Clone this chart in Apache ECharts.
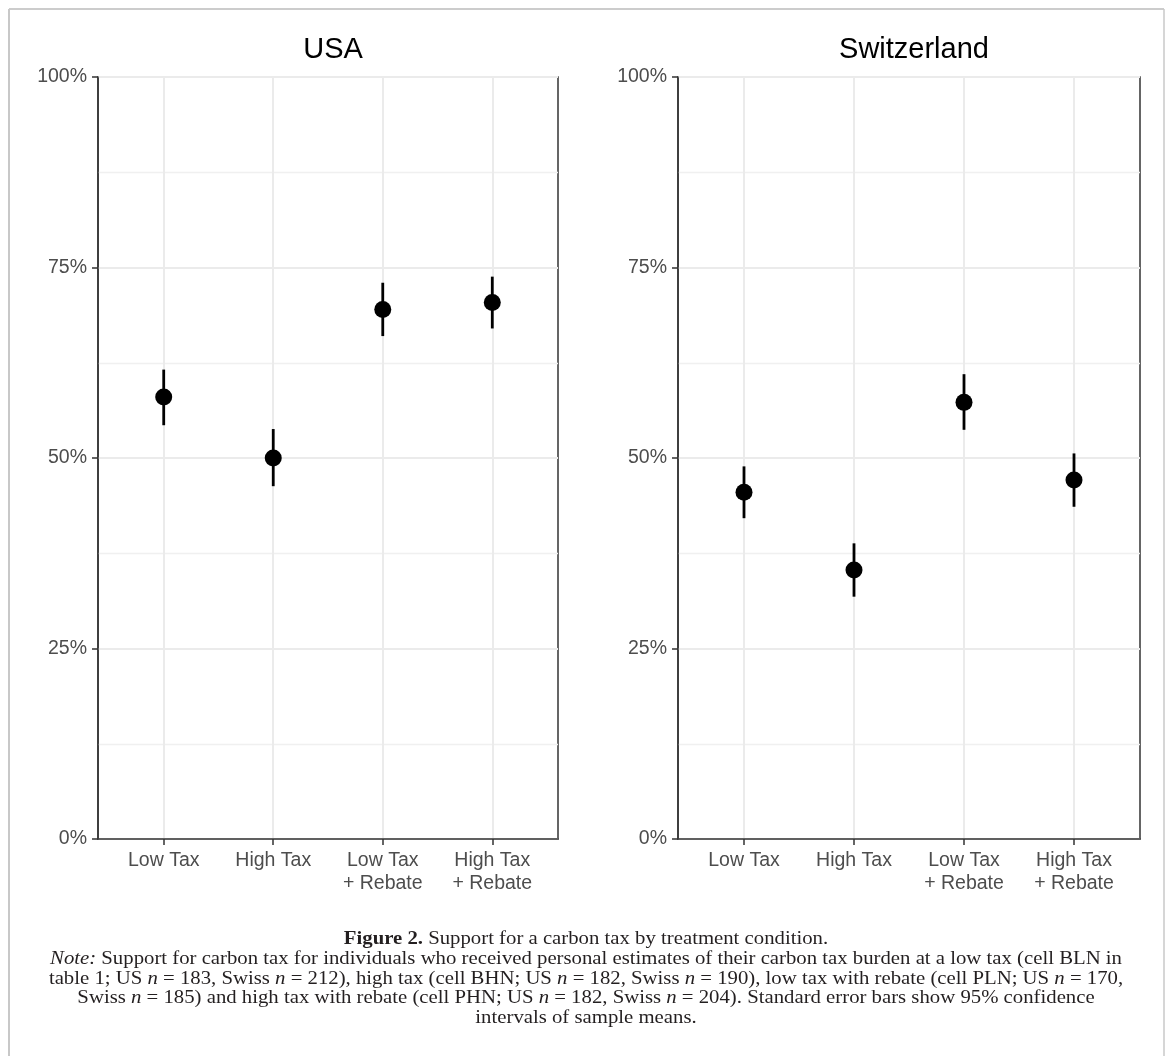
<!DOCTYPE html>
<html>
<head>
<meta charset="utf-8">
<style>
  html, body { margin: 0; padding: 0; background: #fff; }
  #chart { width: 1171px; height: 1056px; }
</style>
<script src="https://cdn.jsdelivr.net/npm/echarts@6/dist/echarts.min.js"></script>
</head>
<body>
<div id="chart"></div>
<script>
// ---- data ----
var categories = ['Low Tax', 'High Tax', 'Low Tax\n+ Rebate', 'High Tax\n+ Rebate'];
var panelTitles = ['USA', 'Switzerland'];
var yTicks = [0, 25, 50, 75, 100];

var usaMean  = [58.0, 50.0, 69.5, 70.4];
var usaLow   = [54.3, 46.3, 66.0, 67.0];
var usaHigh  = [61.6, 53.8, 73.0, 73.8];

var swissMean = [45.5, 35.3, 57.3, 47.1];
var swissLow  = [42.1, 31.8, 53.7, 43.6];
var swissHigh = [48.9, 38.8, 61.0, 50.6];

// ---- chart ----
var chart = echarts.init(document.getElementById('chart'), null, { renderer: 'canvas' });

var sans = '"Liberation Sans", Arial, Helvetica, sans-serif';
var serif = '"Liberation Serif", "Times New Roman", serif';
var catPos = categories.map(function (c, i) { return i + 1; });

var grids = [
  { left: 98, top: 77, width: 460, height: 762 },
  { left: 678, top: 77, width: 462, height: 762 }
];

function xAxisFor(idx) {
  return {
    type: 'value', gridIndex: idx, min: 0.4, max: 4.6,
    axisLine: { show: true, onZero: false, lineStyle: { color: '#333333', width: 1.5 } },
    axisTick: { show: true, customValues: catPos, length: 6, lineStyle: { color: '#333333', width: 1.5 } },
    axisLabel: {
      customValues: catPos, margin: 10, color: '#4d4d4d', fontFamily: sans, fontSize: 19.5, lineHeight: 23,
      formatter: function (v) { return categories[Math.round(v) - 1] || ''; }
    },
    splitLine: { show: true, lineStyle: { color: '#ebebeb', width: 2 } }
  };
}
function yAxisFor(idx) {
  return {
    type: 'value', gridIndex: idx, min: 0, max: 100, interval: 25,
    axisLine: { show: true, lineStyle: { color: '#333333', width: 1.5 } },
    axisTick: { show: true, length: 6, lineStyle: { color: '#333333', width: 1.5 } },
    axisLabel: { margin: 11, color: '#4d4d4d', fontFamily: sans, fontSize: 19.5, formatter: '{value}%' },
    splitLine: { show: true, lineStyle: { color: '#ebebeb', width: 2 } },
    minorTick: { show: false, splitNumber: 2 },
    minorSplitLine: { show: true, lineStyle: { color: '#f0f0f0', width: 1.3 } }
  };
}

function pointData(means) {
  return means.map(function (m, i) { return [catPos[i], m]; });
}
function barData(lows, highs) {
  return lows.map(function (l, i) { return [catPos[i], l, highs[i]]; });
}
function errorSeries(idx, lows, highs) {
  return {
    type: 'custom', xAxisIndex: idx, yAxisIndex: idx, silent: true, z: 3,
    data: barData(lows, highs),
    renderItem: function (params, api) {
      var p1 = api.coord([api.value(0), api.value(1)]);
      var p2 = api.coord([api.value(0), api.value(2)]);
      return {
        type: 'line',
        shape: { x1: p1[0], y1: p1[1], x2: p2[0], y2: p2[1] },
        style: { stroke: '#000', lineWidth: 2.8 }
      };
    }
  };
}
function pointSeries(idx, means) {
  return {
    type: 'scatter', xAxisIndex: idx, yAxisIndex: idx, z: 4, silent: true,
    symbol: 'circle', symbolSize: 17,
    itemStyle: { color: '#000', opacity: 1 },
    data: pointData(means)
  };
}

var cfs = 18.8;
var captionScaleX = 1.105;
var captionFont = { fontFamily: serif, fontSize: cfs, fill: '#231f20' };
var rich = {
  b: { fontFamily: serif, fontSize: cfs, fontWeight: 'bold', color: '#231f20' },
  i: { fontFamily: serif, fontSize: cfs, fontStyle: 'italic', color: '#231f20' },
  l: { fontFamily: serif, fontSize: cfs, color: '#1a75bc' }
};
var captionLines = [
  '{b|Figure 2.} Support for a carbon tax by treatment condition.',
  '{i|Note:} Support for carbon tax for individuals who received personal estimates of their carbon tax burden at a low tax (cell BLN in',
  'table {l|1}; US {i|n} = 183, Swiss {i|n} = 212), high tax (cell BHN; US {i|n} = 182, Swiss {i|n} = 190), low tax with rebate (cell PLN; US {i|n} = 170,',
  'Swiss {i|n} = 185) and high tax with rebate (cell PHN; US {i|n} = 182, Swiss {i|n} = 204). Standard error bars show 95% confidence',
  'intervals of sample means.'
];
var captionY = [939, 959.5, 979, 998.5, 1018];

var graphics = [
  { type: 'line', shape: { x1: 9, y1: 9, x2: 1164, y2: 9 }, style: { stroke: '#9a9a9a', lineWidth: 1.2 } },
  { type: 'line', shape: { x1: 9, y1: 9, x2: 9, y2: 1056 }, style: { stroke: '#c8c8c8', lineWidth: 2 } },
  { type: 'line', shape: { x1: 1164, y1: 9, x2: 1164, y2: 1056 }, style: { stroke: '#c8c8c8', lineWidth: 1.5 } }
];
captionLines.forEach(function (t, k) {
  graphics.push({
    type: 'text', x: 586, y: captionY[k], scaleX: captionScaleX,
    style: Object.assign({ text: t, align: 'center', verticalAlign: 'middle', rich: rich }, captionFont)
  });
});

var option = {
  animation: false,
  backgroundColor: '#ffffff',
  title: panelTitles.map(function (t, i) {
    return {
      text: t, left: grids[i].left + grids[i].width / 2, top: 30, textAlign: 'center',
      textStyle: { fontFamily: sans, fontSize: 29, fontWeight: 'normal', color: '#000' }
    };
  }),
  grid: grids.map(function (g) {
    return Object.assign({ show: true, borderColor: '#333333', borderWidth: 1.5, backgroundColor: 'transparent' }, g);
  }),
  xAxis: [xAxisFor(0), xAxisFor(1)],
  yAxis: [yAxisFor(0), yAxisFor(1)],
  series: [
    errorSeries(0, usaLow, usaHigh),
    pointSeries(0, usaMean),
    errorSeries(1, swissLow, swissHigh),
    pointSeries(1, swissMean)
  ],
  graphic: graphics
};
chart.setOption(option);
</script>
</body>
</html>
